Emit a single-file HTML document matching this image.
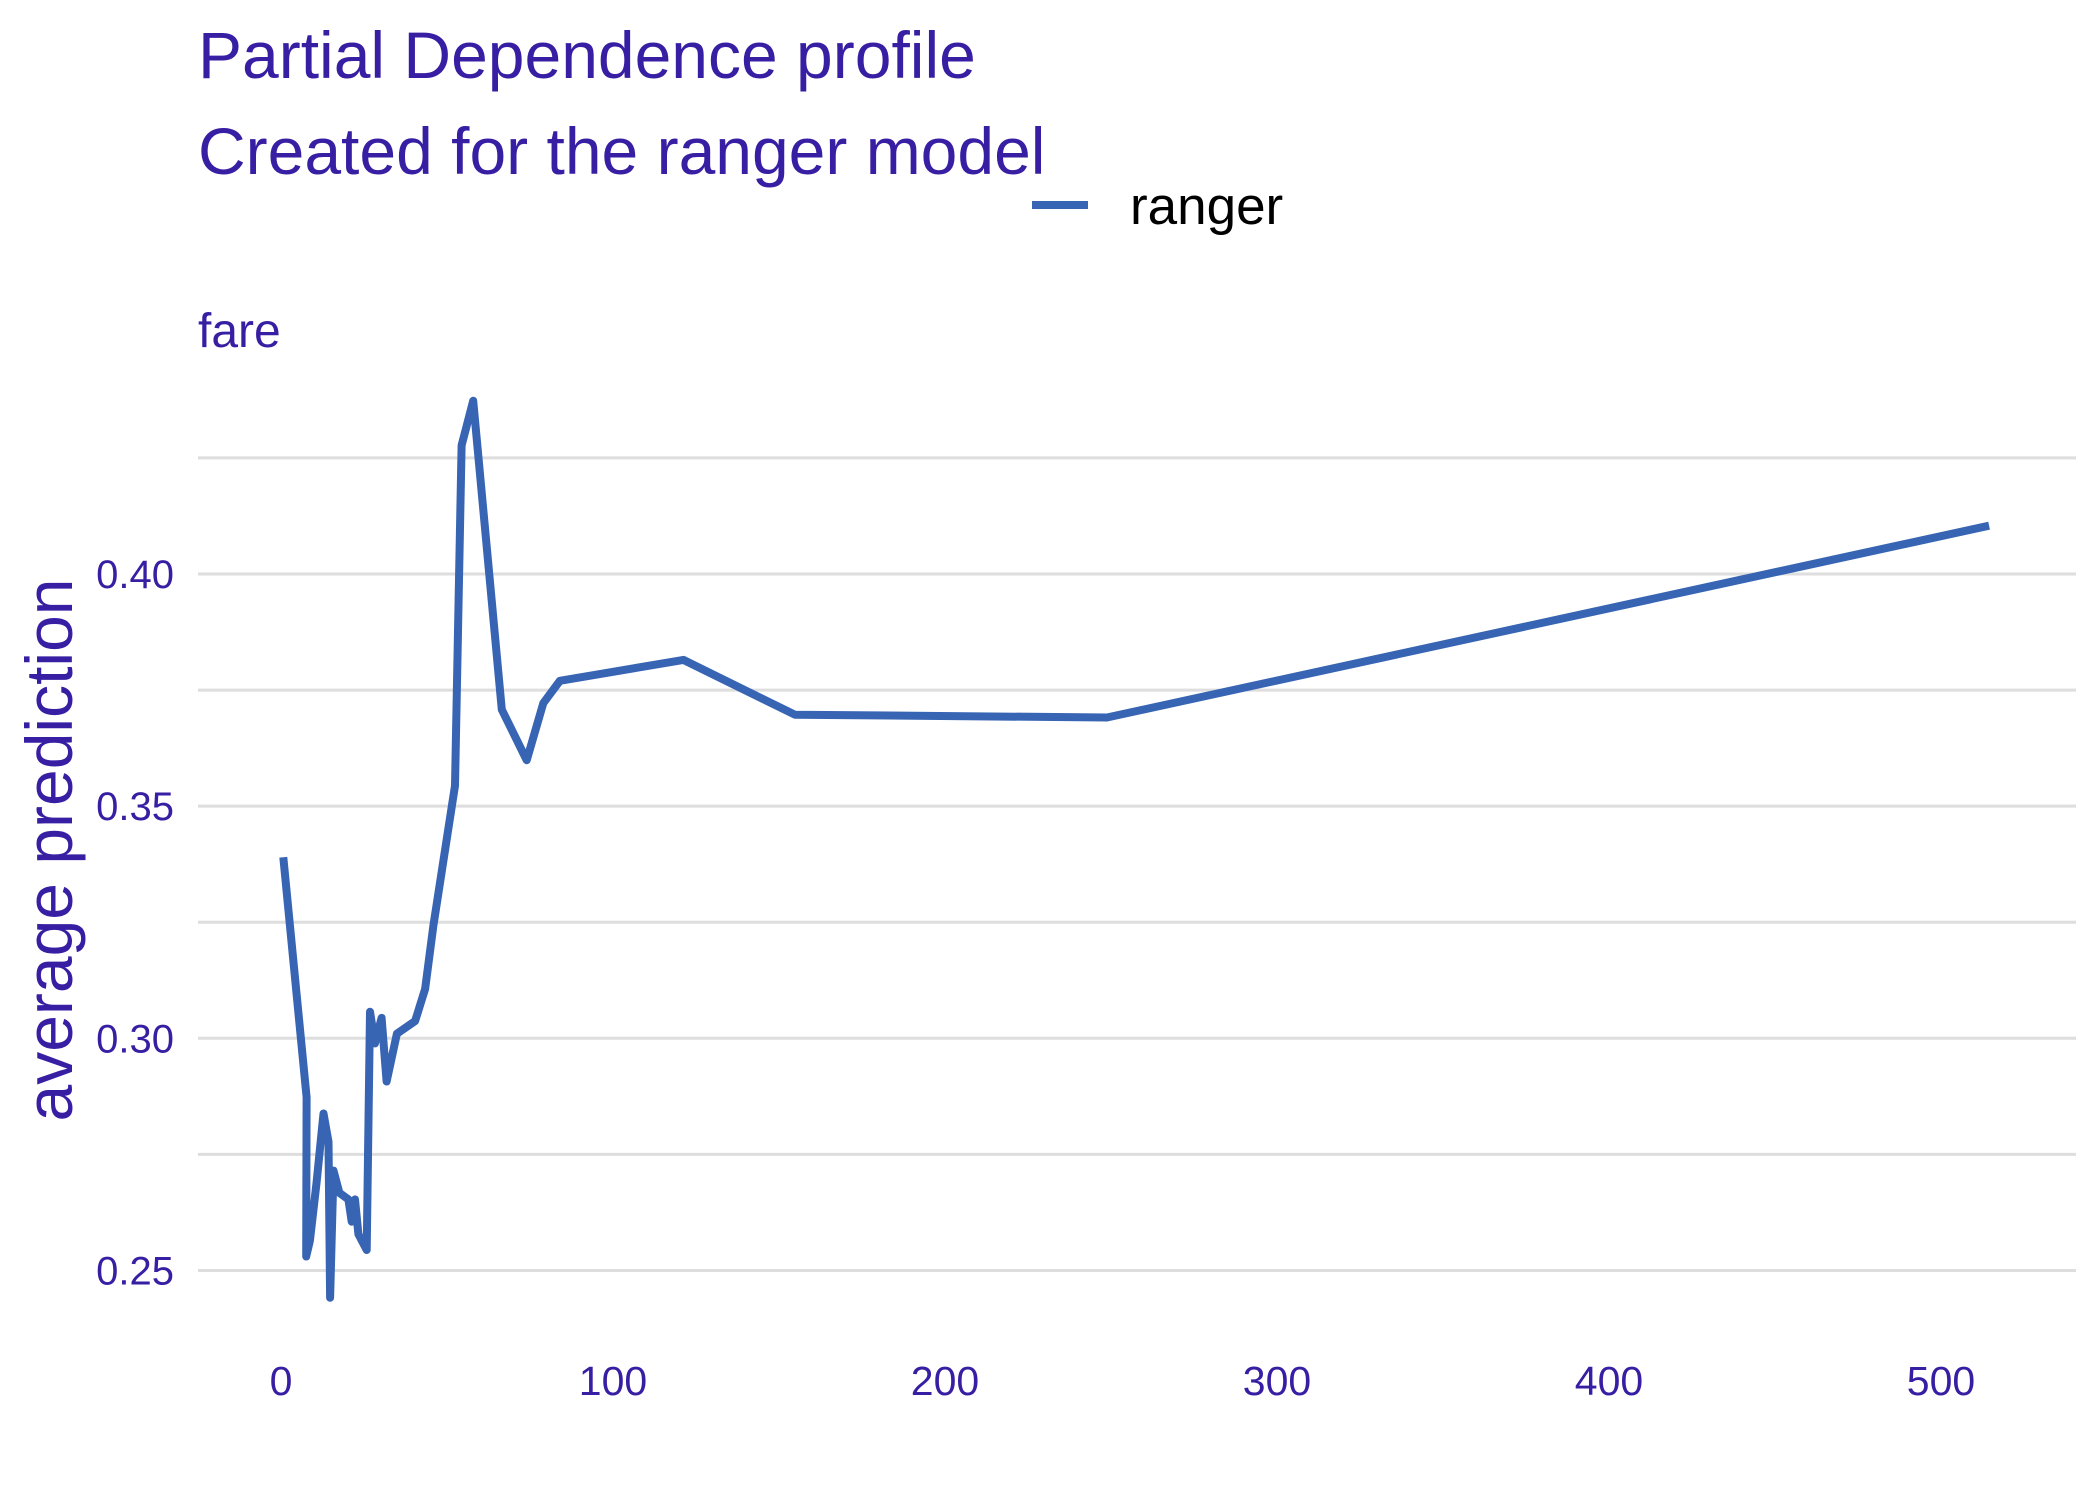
<!DOCTYPE html>
<html><head><meta charset="utf-8"><style>
html,body{margin:0;padding:0;background:#fff;}
svg{display:block;font-family:"Liberation Sans",sans-serif;}
</style></head><body>
<svg id="chart" width="2099" height="1499" viewBox="0 0 2099 1499">
<text x="198" y="78" font-size="66" fill="#371ea3">Partial Dependence profile</text>
<text x="198" y="174" font-size="66" fill="#371ea3">Created for the ranger model</text>
<g>
<line x1="1032" y1="205" x2="1088" y2="205" stroke="#3764b3" stroke-width="8"/>
<text x="1130" y="224" font-size="53" fill="#000">ranger</text>
</g>
<text x="198" y="347" font-size="48" fill="#371ea3">fare</text>
<text transform="translate(72,850) rotate(-90)" text-anchor="middle" font-size="66" fill="#371ea3">average prediction</text>
<g id="grid"></g><g id="yt"></g><g id="xt"></g><g id="series"></g>
</svg>
<script>
const xTicks=[0,100,200,300,400,500];
const yTicks=[0.25,0.30,0.35,0.40];
const yMinor=[0.275,0.325,0.375,0.425];
const fare=[0.7,7.7,7.6,8.7,10.7,12.8,14.3,14.8,15.8,17.6,20.3,21.3,22.3,23.3,25.8,26.8,28.3,30.3,31.8,34.9,40.4,43.4,45.9,52.4,54.4,57.9,66.5,74.0,79.0,84.0,121.2,154.8,248.8,514.5];
const pred=[0.339,0.2873,0.253,0.2564,0.2688,0.2838,0.2777,0.2441,0.2715,0.2667,0.2653,0.2605,0.2653,0.2578,0.2544,0.3057,0.2989,0.3044,0.2907,0.3010,0.3037,0.3106,0.3243,0.3544,0.4277,0.4373,0.3708,0.3599,0.3722,0.3770,0.3815,0.3697,0.3691,0.4104];
const NS="http://www.w3.org/2000/svg";
const X=v=>281+v*3.32;
const Y=v=>574-(v-0.40)*4643;
function mk(t,a,p){const e=document.createElementNS(NS,t);for(const k in a)e.setAttribute(k,a[k]);p.appendChild(e);return e;}
const grid=document.getElementById('grid');
for(const v of yTicks.concat(yMinor)){
 const l=mk('line',{x1:198,x2:2076,y1:Y(v),y2:Y(v),stroke:'#dedede','stroke-width':3},grid);
 
 
}
const yt=document.getElementById('yt');
for(const v of yTicks){
 const t=mk('text',{x:174,y:Y(v)+14,'text-anchor':'end','font-size':40,fill:'#371ea3'},yt);
 t.textContent=v.toFixed(2);
 
 
}
const xt=document.getElementById('xt');
for(const v of xTicks){
 const t=mk('text',{x:X(v),y:1395,'text-anchor':'middle','font-size':41,fill:'#371ea3'},xt);
 t.textContent=v;
 
 
}
const pts=fare.map((f,i)=>X(f).toFixed(1)+','+Y(pred[i]).toFixed(1)).join(' ');
const pl=mk('polyline',{points:pts,fill:'none',stroke:'#3764b3','stroke-width':8,'stroke-linejoin':'round'},document.getElementById('series'));


</script>
</body></html>
